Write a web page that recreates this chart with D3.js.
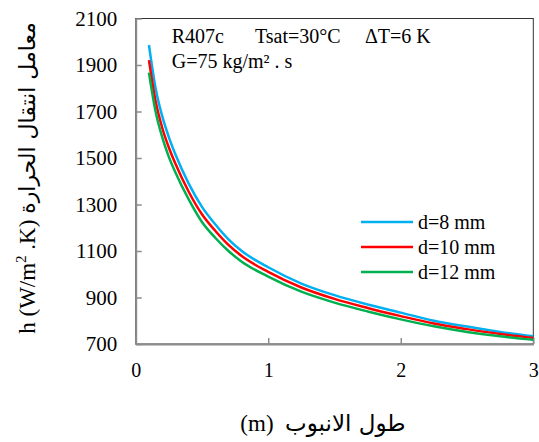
<!DOCTYPE html>
<html>
<head>
<meta charset="utf-8">
<script src="https://cdn.jsdelivr.net/npm/d3@7"></script>
<style>
  html, body { margin: 0; padding: 0; background: #fff; }
  svg text, svg tspan { font-family: "Liberation Serif", "Times New Roman", serif; fill: #000; }
  svg .ar { font-family: "DejaVu Sans", "Noto Sans", sans-serif; }
</style>
</head>
<body>
<svg id="chart" width="539" height="442"></svg>
<script>
// Tube length (m) at which each heat-transfer coefficient was read
const lengthM = [0.1, 0.15, 0.2, 0.25, 0.3, 0.4, 0.5, 0.6, 0.7, 0.8, 1.0, 1.25, 1.5, 1.75, 2.0, 2.25, 2.5, 2.75, 3.0];
// h (W/m².K) for each tube diameter
const hD8  = [1986, 1800, 1680, 1590, 1515, 1390, 1290, 1215, 1150, 1100, 1030, 960, 910, 870, 835, 800, 775, 752, 733];
const hD10 = [1921, 1745, 1630, 1545, 1475, 1355, 1258, 1187, 1126, 1078, 1010, 943, 894, 855, 820, 788, 764, 743, 726];
const hD12 = [1867, 1700, 1590, 1505, 1438, 1322, 1225, 1157, 1100, 1054, 990, 925, 878, 840, 806, 776, 752, 733, 718];

const seriesNames = ["d=8 mm", "d=10 mm", "d=12 mm"];
const seriesColors = ["#00B0F0", "#FF0000", "#00B050"];
const xTicks = [0, 1, 2, 3];
const yTicks = [700, 900, 1100, 1300, 1500, 1700, 1900, 2100];

const series = [hD8, hD10, hD12].map((vals, i) => ({
  name: seriesNames[i],
  color: seriesColors[i],
  points: lengthM.map((x, j) => ({ x, y: vals[j] }))
}));

const serif = "'Liberation Serif', 'Times New Roman', serif";
const svg = d3.select("#chart");
const x = d3.scaleLinear().domain([0, 3]).range([135.7, 533.3]);
const y = d3.scaleLinear().domain([700, 2100]).range([344, 18.5]);

// plot area frame
svg.append("rect")
  .attr("x", x(0)).attr("y", y(2100))
  .attr("width", x(3) - x(0)).attr("height", y(700) - y(2100))
  .attr("fill", "none").attr("stroke", "#333").attr("stroke-width", 1);

// y axis with inward ticks
const yAxis = svg.append("g")
  .attr("transform", `translate(${x(0)},0)`)
  .call(d3.axisLeft(y).tickValues(yTicks).tickSize(-6).tickSizeOuter(0).tickPadding(18.5).tickFormat(d3.format("d")));
yAxis.attr("font-family", null).attr("font-size", null);
yAxis.select(".domain").attr("stroke", "#8c8c8c").attr("stroke-width", 2);
yAxis.selectAll(".tick line").attr("stroke", "#8c8c8c").attr("stroke-width", 1.5);
yAxis.selectAll(".tick text").style("font-family", serif).style("font-size", "21px").attr("fill", "#000");

// x axis with inward ticks
const xAxis = svg.append("g")
  .attr("transform", `translate(0,${y(700)})`)
  .call(d3.axisBottom(x).tickValues(xTicks).tickSize(-6).tickSizeOuter(0).tickPadding(19).tickFormat(d3.format("d")));
xAxis.attr("font-family", null).attr("font-size", null);
xAxis.select(".domain").attr("stroke", "#8c8c8c").attr("stroke-width", 2);
xAxis.selectAll(".tick line").attr("stroke", "#8c8c8c").attr("stroke-width", 1.5);
xAxis.selectAll(".tick text").style("font-family", serif).style("font-size", "20px").attr("fill", "#000");

// curves
const line = d3.line().x(d => x(d.x)).y(d => y(d.y)).curve(d3.curveMonotoneX);
svg.append("g").selectAll("path")
  .data(series)
  .join("path")
  .attr("d", d => line(d.points))
  .attr("fill", "none")
  .attr("stroke", d => d.color)
  .attr("stroke-width", 2.5);

// legend
const legend = svg.append("g");
series.forEach((s, i) => {
  const ly = 222 + i * 25;
  legend.append("line")
    .attr("x1", 361).attr("x2", 413).attr("y1", ly).attr("y2", ly)
    .attr("stroke", s.color).attr("stroke-width", 2.5);
  legend.append("text")
    .attr("x", 418).attr("y", ly + 7)
    .style("font-size", "20px")
    .text(s.name);
});

// conditions note
const note = svg.append("g").style("font-size", "20px");
note.append("text").attr("x", 171.7).attr("y", 43).text("R407c");
note.append("text").attr("x", 255).attr("y", 43).text("Tsat=30°C");
note.append("text").attr("x", 365).attr("y", 43).text("ΔT=6 K");
note.append("text").attr("x", 171.7).attr("y", 68).text("G=75 kg/m² . s");

// y axis title (rotated)
const yTitle = svg.append("text")
  .attr("transform", "translate(35,178) rotate(-90)")
  .attr("text-anchor", "middle")
  .style("font-size", "23px");
yTitle.append("tspan").text("h (W/m");
yTitle.append("tspan").style("font-size", "15px").attr("dy", -9).text("2");
yTitle.append("tspan").attr("dy", 9).text(" .K) ");
yTitle.append("tspan").attr("class", "ar").style("font-size", "22px").text("معامل انتقال الحرارة");

// x axis title
const xTitle = svg.append("text")
  .attr("x", 323).attr("y", 431)
  .attr("text-anchor", "middle")
  .style("font-size", "23px")
  .style("white-space", "pre");
xTitle.append("tspan").text("(m)  ");
xTitle.append("tspan").attr("class", "ar").style("font-size", "23px").text("طول الانبوب");
</script>
</body>
</html>
